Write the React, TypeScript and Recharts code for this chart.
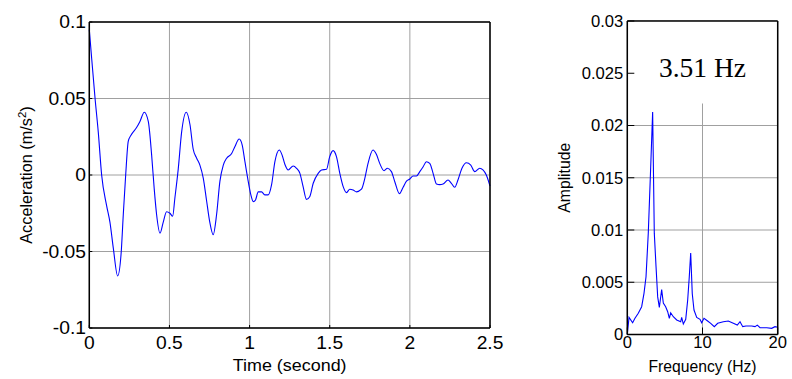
import React from "react";
import {
  LineChart,
  Line,
  XAxis,
  YAxis,
  CartesianGrid,
  ReferenceArea,
} from "recharts";

// acceleration record (left panel)
const timeSec = [
  0, 0.015, 0.036, 0.056, 0.077, 0.108, 0.129, 0.15, 0.177, 0.198, 0.212, 0.227,
  0.243, 0.26, 0.295, 0.316, 0.343, 0.368, 0.389, 0.405, 0.42, 0.441, 0.461,
  0.482, 0.503, 0.52, 0.534, 0.555, 0.576, 0.605, 0.628, 0.648, 0.67, 0.69,
  0.711, 0.732, 0.752, 0.773, 0.794, 0.815, 0.836, 0.857, 0.888, 0.908, 0.935,
  0.954, 0.971, 0.988, 1.008, 1.023, 1.037, 1.054, 1.075, 1.095, 1.116, 1.137,
  1.158, 1.185, 1.203, 1.22, 1.241, 1.272, 1.293, 1.314, 1.334, 1.355, 1.376,
  1.397, 1.428, 1.449, 1.48, 1.5, 1.521, 1.542, 1.563, 1.584, 1.605, 1.625,
  1.646, 1.667, 1.698, 1.719, 1.739, 1.77, 1.791, 1.812, 1.839, 1.86, 1.885,
  1.906, 1.935, 1.958, 1.979, 2.0, 2.02, 2.041, 2.062, 2.083, 2.103, 2.124,
  2.145, 2.166, 2.186, 2.207, 2.238, 2.259, 2.28, 2.3, 2.325, 2.353, 2.38,
  2.405, 2.436, 2.456, 2.477, 2.5,
];
const accel = [
  0.095, 0.076, 0.05, 0.028, 0.0, -0.02, -0.031, -0.048, -0.066, -0.052, -0.026,
  0.0, 0.022, 0.026, 0.031, 0.035, 0.041, 0.035, 0.013, -0.009, -0.026, -0.038,
  -0.031, -0.024, -0.025, -0.027, -0.015, 0.004, 0.028, 0.041, 0.033, 0.017,
  0.011, 0.0065, -0.002, -0.017, -0.031, -0.039, -0.026, -0.004, 0.0065, 0.011,
  0.014, 0.0185, 0.0235, 0.0196, 0.0087, -0.002, -0.013, -0.0174, -0.0163,
  -0.011, -0.011, -0.013, -0.013, -0.0065, 0.0087, 0.0163, 0.013, 0.007,
  0.0033, 0.0059, 0.0044, 0.0011, -0.0076, -0.0159, -0.014, -0.0054, 0.0011,
  0.0033, 0.0037, 0.012, 0.0159, 0.012, 0.0011, -0.0076, -0.0115, -0.0093,
  -0.0098, -0.011, -0.0093, -0.0022, 0.0076, 0.0163, 0.0135, 0.0076, 0.0028,
  0.0044, 0.0022, -0.0044, -0.0122, -0.008, -0.004, -0.0026, -0.0007, -0.0007,
  0.0022, 0.0054, 0.0087, 0.0076, 0.0011, -0.0059, -0.0063, -0.0059, -0.0033,
  -0.0054, -0.008, -0.0033, 0.0044, 0.008, 0.0065, 0.0022, 0.0044, 0.0033, 0.0,
  -0.0072,
];

// spectrum (right panel)
const freqHz = [
  0, 0.23, 0.71, 1.02, 1.46, 1.91, 2.22, 2.49, 2.79, 3.11, 3.37, 3.59, 3.82,
  4.04, 4.26, 4.57, 4.79, 5.1, 5.37, 5.59, 5.77, 6.12, 6.57, 7.1, 7.23, 7.45,
  7.77, 8.03, 8.24, 8.43, 8.64, 8.87, 9.23, 9.67, 9.89, 10.2, 10.64, 11.09,
  11.57, 12.02, 12.77, 13.43, 14.1, 14.63, 14.99, 15.35, 15.78, 16.54, 16.98,
  17.29, 17.65, 18.54, 19.2, 19.64, 20,
];
const amplitude = [
  0, 0.00164, 0.00113, 0.00155, 0.00203, 0.00266, 0.00394, 0.00553, 0.0097,
  0.016, 0.0213, 0.0097, 0.0065, 0.0036, 0.0026, 0.0043, 0.003, 0.00266,
  0.00218, 0.00155, 0.00208, 0.0017, 0.00139, 0.00122, 0.00164, 0.001, 0.00145,
  0.0033, 0.0055, 0.0078, 0.0039, 0.00234, 0.00164, 0.00145, 0.00113, 0.00155,
  0.00132, 0.00107, 0.00075, 0.00107, 0.00122, 0.00129, 0.00107, 0.0009,
  0.00122, 0.00075, 0.00081, 0.00081, 0.00075, 0.0009, 0.00065, 0.00065,
  0.00059, 0.00075, 0.00069,
];

const timeTicks = [0, 0.5, 1, 1.5, 2, 2.5];
const accelTicks = [-0.1, -0.05, 0, 0.05, 0.1];
const freqTicks = [0, 10, 20];
const ampTicks = [0, 0.005, 0.01, 0.015, 0.02, 0.025, 0.03];
const peakText = "3.51 Hz";
const peakBoxBottom = 0.0221; // white box behind the peak label

const SANS = "'Liberation Sans', Arial, sans-serif";
const SERIF = "'Liberation Serif', 'Times New Roman', serif";
const GRID = "#a0a0a0";
const AXIS_LINE = { stroke: "#000", strokeWidth: 1.5 };

const accelData = timeSec.map((t, i) => ({ t, a: accel[i] }));
const specData = freqHz.map((f, i) => ({ f, amp: amplitude[i] }));

// tick text, optionally stretched horizontally like the original figure
const tickText =
  (size: number, sx: number, anchor: string, dy: string) => (p: any) =>
    (
      <text
        transform={`translate(${p.x},${p.y}) scale(${sx},1)`}
        textAnchor={anchor}
        dy={dy}
        fontSize={size}
        fontFamily={SANS}
        fill="#000"
      >
        {String(p.payload.value)}
      </text>
    );

const bottomLabel =
  (text: string, below: number, size: number, sx: number) => (p: any) => {
    const vb = p.viewBox;
    return (
      <text
        transform={`translate(${vb.x + vb.width / 2},${vb.y + below}) scale(${sx},1)`}
        textAnchor="middle"
        fontSize={size}
        fontFamily={SANS}
        fill="#000"
      >
        {text}
      </text>
    );
  };

const sideLabel =
  (text: string, left: number, size: number, sup?: string) => (p: any) => {
    const vb = p.viewBox;
    const cx = vb.x + vb.width - left;
    const cy = vb.y + vb.height / 2;
    return (
      <text
        transform={`translate(${cx},${cy}) rotate(-90)`}
        textAnchor="middle"
        fontSize={size}
        fontFamily={SANS}
        fill="#000"
      >
        <tspan>{text}</tspan>
        {sup && (
          <>
            <tspan dy={-6} fontSize={size * 0.7}>
              {sup}
            </tspan>
            <tspan dy={6}>)</tspan>
          </>
        )}
      </text>
    );
  };

export default function App() {
  return (
    <div
      style={{
        position: "absolute",
        left: 0,
        top: 0,
        width: 792,
        height: 379,
        background: "#fff",
      }}
    >
      {/* time history */}
      <div style={{ position: "absolute", left: 0, top: 0 }}>
        <LineChart
          width={520}
          height={379}
          data={accelData}
          margin={{ top: 21, right: 29, bottom: 0, left: 0 }}
        >
          <CartesianGrid stroke={GRID} strokeWidth={1} />
          <Line
            type="monotone"
            dataKey="a"
            stroke="#0000ff"
            strokeWidth={1.1}
            dot={false}
            isAnimationActive={false}
          />
          <XAxis
            type="number"
            dataKey="t"
            domain={[0, 2.5]}
            ticks={timeTicks}
            height={51}
            tickSize={-3}
            tickMargin={12}
            stroke="#000"
            axisLine={AXIS_LINE}
            tick={tickText(17.5, 1.1, "middle", "0.71em")}
            label={{ content: bottomLabel("Time (second)", 42.5, 16.3, 1.1) }}
          />
          <XAxis
            xAxisId="top"
            orientation="top"
            type="number"
            domain={[0, 2.5]}
            ticks={timeTicks}
            height={1}
            tickSize={-3}
            tick={false}
            stroke="#000"
            axisLine={AXIS_LINE}
          />
          <YAxis
            type="number"
            domain={[-0.1, 0.1]}
            ticks={accelTicks}
            width={89.3}
            tickSize={-3}
            tickMargin={6.3}
            stroke="#000"
            axisLine={AXIS_LINE}
            tick={tickText(17.5, 1.1, "end", "0.36em")}
            label={{
              content: sideLabel("Acceleration (m/s", 57.8, 16.3, "2"),
            }}
          />
          <YAxis
            yAxisId="right"
            orientation="right"
            type="number"
            domain={[-0.1, 0.1]}
            ticks={accelTicks}
            width={1}
            tickSize={-3}
            tick={false}
            stroke="#000"
            axisLine={AXIS_LINE}
          />
        </LineChart>
      </div>

      {/* spectrum */}
      <div style={{ position: "absolute", left: 540, top: 0 }}>
        <LineChart
          width={252}
          height={379}
          data={specData}
          margin={{ top: 20, right: 13.3, bottom: 0, left: 0 }}
        >
          <CartesianGrid stroke={GRID} strokeWidth={1} />
          <ReferenceArea
            x1={0}
            x2={20}
            y1={peakBoxBottom}
            y2={0.03}
            fill="#fff"
            fillOpacity={1}
            stroke="none"
            label={{
              content: (p: any) => (
                <text
                  x={p.viewBox.x + p.viewBox.width / 2}
                  y={p.viewBox.y + 56}
                  textAnchor="middle"
                  fontSize={27.5}
                  fontFamily={SERIF}
                  fill="#000"
                >
                  {peakText}
                </text>
              ),
            }}
          />
          <Line
            type="linear"
            dataKey="amp"
            stroke="#0000ff"
            strokeWidth={1.1}
            dot={false}
            isAnimationActive={false}
          />
          <XAxis
            type="number"
            dataKey="f"
            domain={[0, 20]}
            ticks={freqTicks}
            height={44.5}
            tickSize={-7}
            tickMargin={8.5}
            stroke="#000"
            axisLine={AXIS_LINE}
            tick={tickText(16.6, 1, "middle", "0.71em")}
            label={{ content: bottomLabel("Frequency (Hz)", 37.5, 15.7, 1) }}
          />
          <XAxis
            xAxisId="top"
            orientation="top"
            type="number"
            domain={[0, 20]}
            ticks={freqTicks}
            height={1}
            tickSize={-7}
            tick={false}
            stroke="#000"
            axisLine={AXIS_LINE}
          />
          <YAxis
            type="number"
            domain={[0, 0.03]}
            ticks={ampTicks}
            width={87.3}
            tickSize={-7}
            tickMargin={11}
            stroke="#000"
            axisLine={AXIS_LINE}
            tick={tickText(16.6, 1, "end", "0.36em")}
            label={{ content: sideLabel("Amplitude", 57.3, 15.7) }}
          />
          <YAxis
            yAxisId="right"
            orientation="right"
            type="number"
            domain={[0, 0.03]}
            ticks={ampTicks}
            width={1}
            tickSize={-7}
            tick={false}
            stroke="#000"
            axisLine={AXIS_LINE}
          />
        </LineChart>
      </div>
    </div>
  );
}
